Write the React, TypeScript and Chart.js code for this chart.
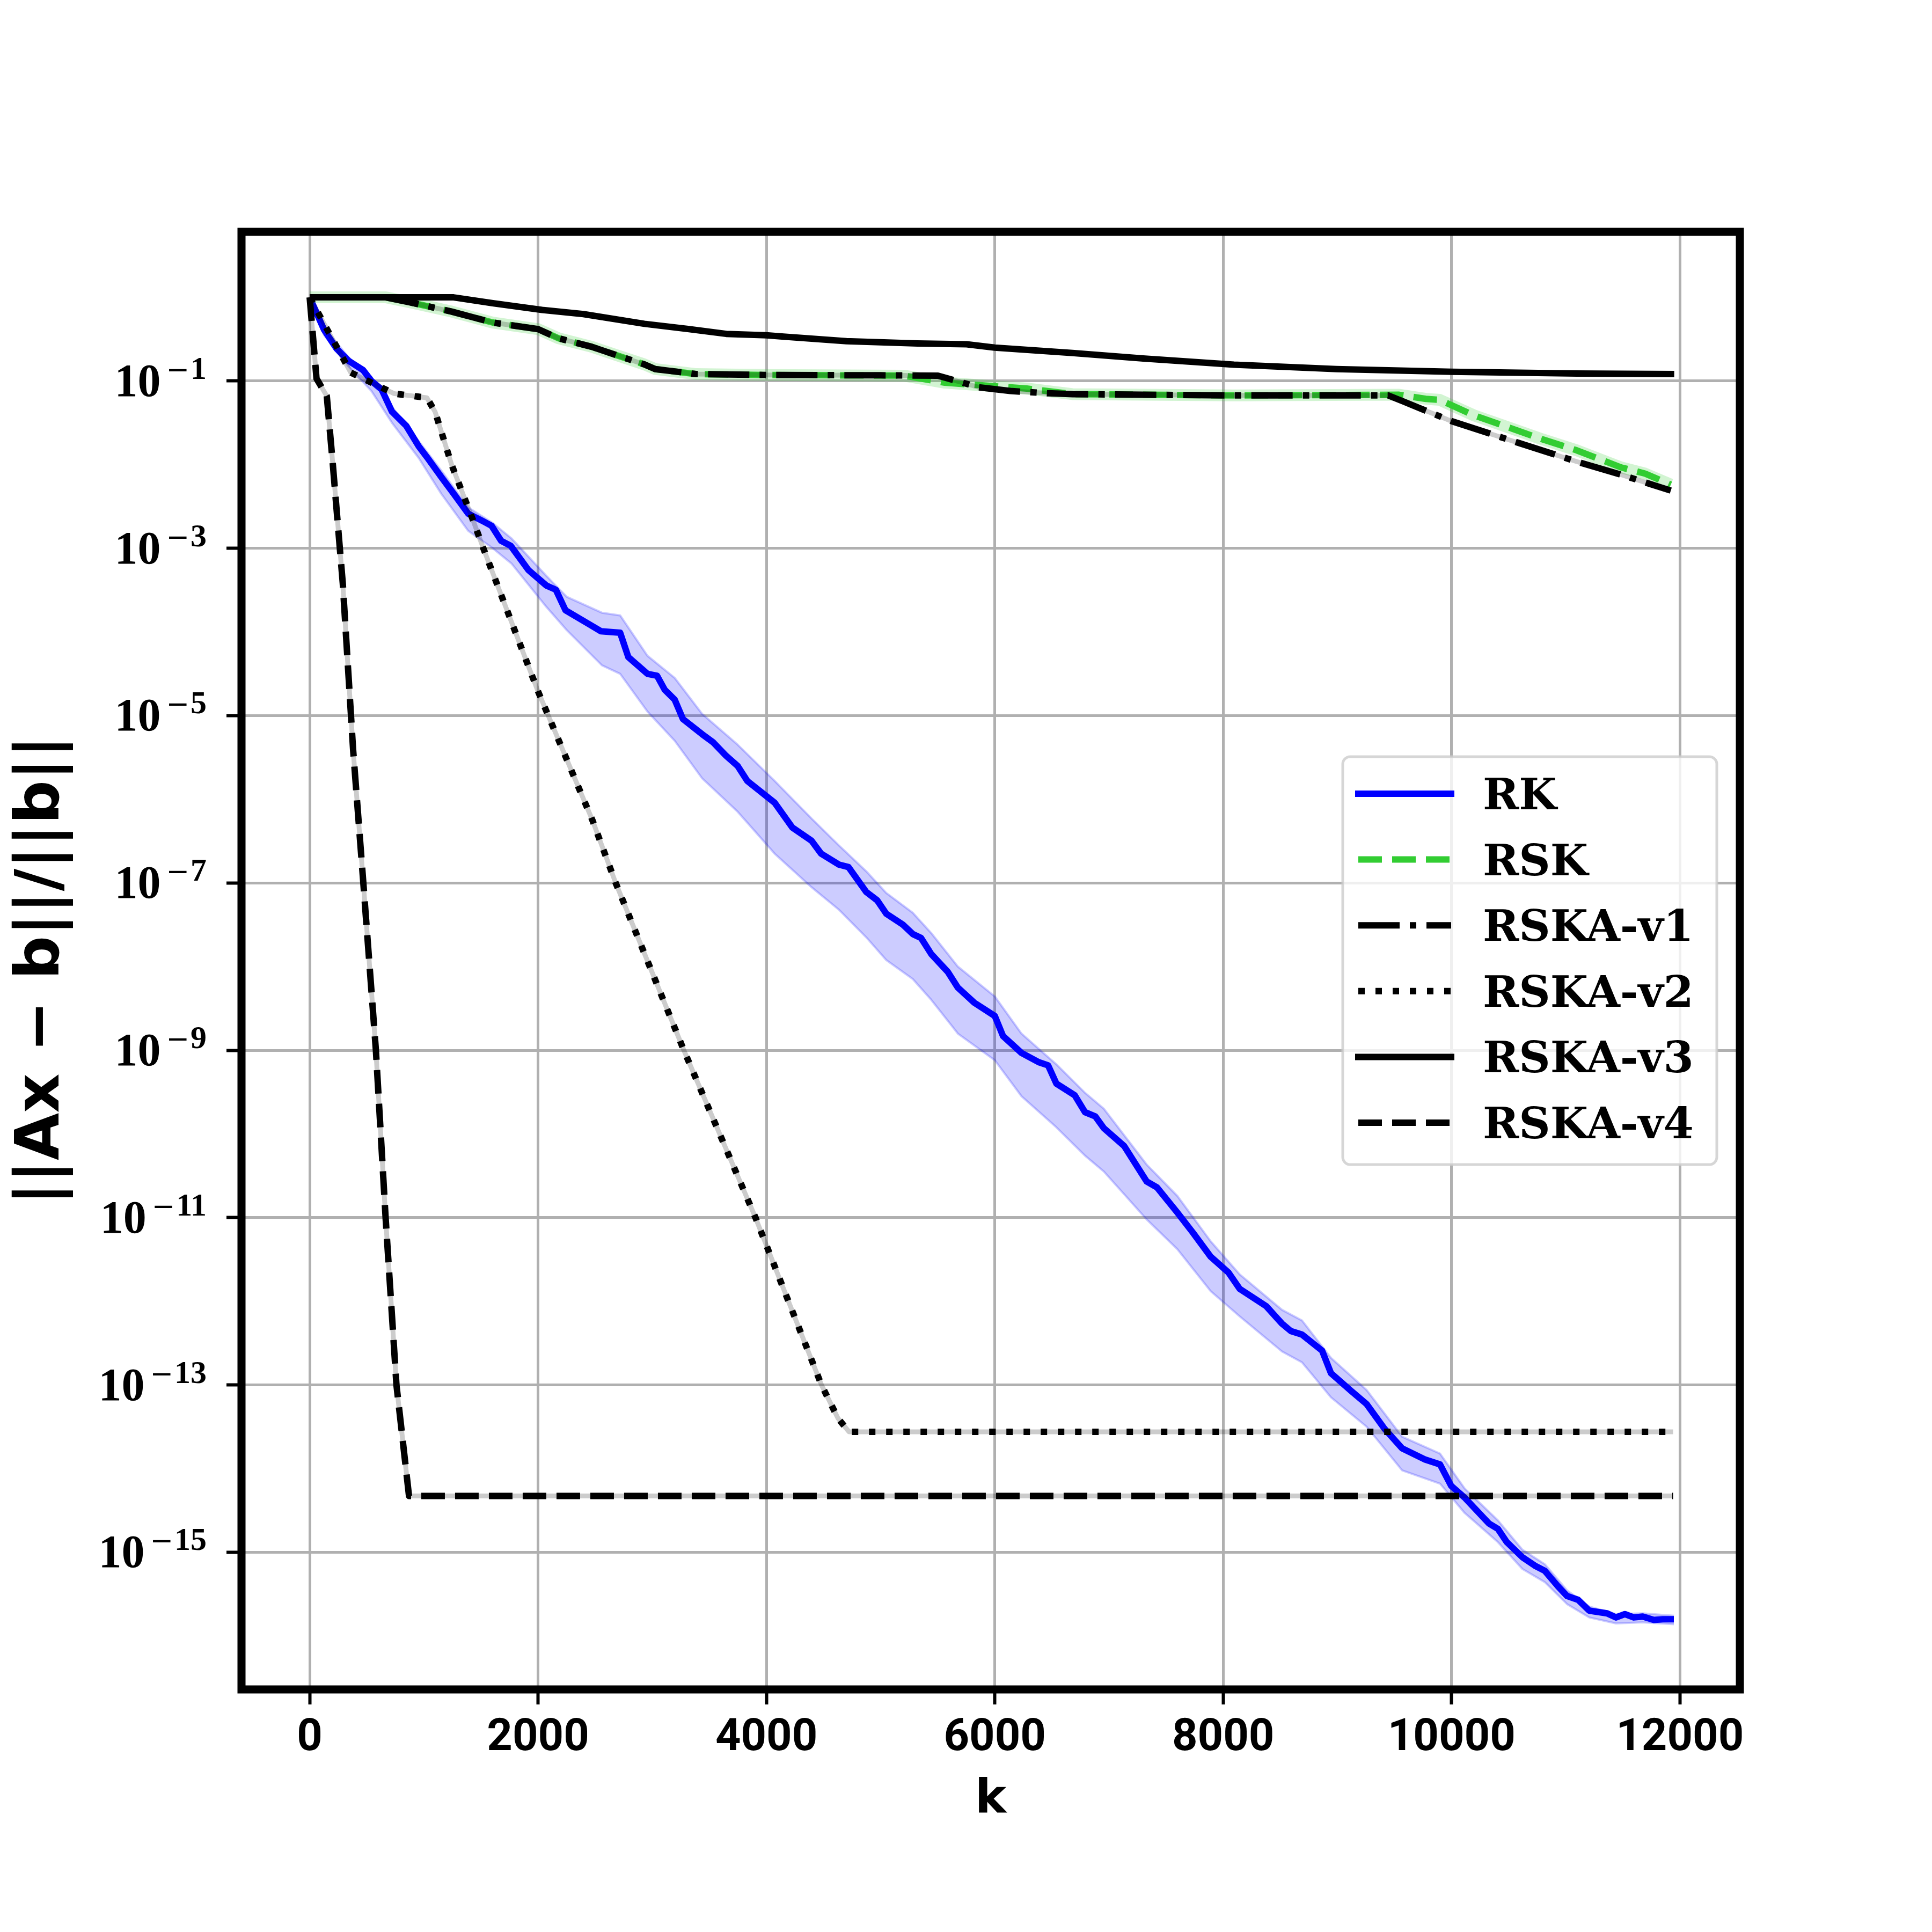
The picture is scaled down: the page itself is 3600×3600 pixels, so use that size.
import React, { useEffect, useRef } from "react";
import { Chart, registerables } from "chart.js";

Chart.register(...registerables);

// iteration counts k and relative residuals
const rkK = [0, 126, 234, 342, 468, 541, 631, 721, 847, 955, 1027, 1153, 1261, 1388, 1521, 1593, 1677, 1761, 1916, 2072, 2156, 2240, 2451, 2551, 2719, 2791, 2958, 3042, 3109, 3197, 3269, 3437, 3533, 3648, 3748, 3832, 4072, 4227, 4395, 4479, 4634, 4718, 4874, 4970, 5049, 5192, 5282, 5354, 5444, 5587, 5677, 5821, 6000, 6072, 6234, 6385, 6467, 6539, 6700, 6790, 6880, 6955, 7132, 7330, 7420, 7598, 7735, 7891, 8047, 8144, 8378, 8515, 8593, 8690, 8866, 8944, 9119, 9256, 9412, 9568, 9763, 9899, 9997, 10114, 10328, 10406, 10484, 10621, 10738, 10816, 10933, 11011, 11108, 11206, 11362, 11440, 11518, 11596, 11674, 11772, 11849, 11947];
const rkMean = [1, 0.41, 0.245, 0.174, 0.135, 0.1, 0.079, 0.043, 0.029, 0.0166, 0.0123, 0.0071, 0.0045, 0.0026, 0.0021, 0.00186, 0.00123, 0.00107, 5.5e-4, 3.6e-4, 3.2e-4, 1.82e-4, 1.23e-4, 1.02e-4, 9.8e-5, 5.0e-5, 3.16e-5, 3.0e-5, 2.04e-5, 1.55e-5, 9.1e-6, 6.0e-6, 4.8e-6, 3.3e-6, 2.5e-6, 1.66e-6, 9.1e-7, 4.6e-7, 3.2e-7, 2.24e-7, 1.66e-7, 1.55e-7, 7.8e-8, 6.2e-8, 4.3e-8, 3.2e-8, 2.45e-8, 2.2e-8, 1.41e-8, 8.7e-9, 5.6e-9, 3.7e-9, 2.57e-9, 1.48e-9, 9.3e-10, 7.2e-10, 6.6e-10, 4.0e-10, 2.9e-10, 1.82e-10, 1.62e-10, 1.17e-10, 7.2e-11, 2.7e-11, 2.3e-11, 1.15e-11, 6.6e-12, 3.4e-12, 2.2e-12, 1.41e-12, 8.7e-13, 5.4e-13, 4.4e-13, 4.0e-13, 2.57e-13, 1.38e-13, 8.5e-14, 5.9e-14, 3.0e-14, 1.74e-14, 1.29e-14, 1.12e-14, 6.2e-15, 4.5e-15, 2.2e-15, 1.9e-15, 1.32e-15, 8.7e-16, 6.8e-16, 6.0e-16, 3.9e-16, 3.0e-16, 2.7e-16, 2.0e-16, 1.86e-16, 1.66e-16, 1.82e-16, 1.66e-16, 1.7e-16, 1.55e-16, 1.58e-16, 1.58e-16];

// spread band around RK
const rkBandK = [0, 126, 342, 541, 721, 955, 1153, 1388, 1604, 1766, 2072, 2252, 2559, 2719, 2958, 3197, 3437, 3748, 4072, 4395, 4634, 4874, 5049, 5282, 5444, 5677, 6000, 6234, 6539, 6790, 6955, 7330, 7598, 7891, 8144, 8515, 8690, 8944, 9256, 9568, 9899, 10114, 10406, 10621, 10816, 11011, 11206, 11440, 11674, 11947];
const rkUpper = [1, 0.437, 0.191, 0.112, 0.049, 0.0191, 0.0085, 0.00309, 0.002, 0.00132, 4.7e-4, 2.63e-4, 1.7e-4, 1.58e-4, 5.2e-5, 2.82e-5, 1.05e-5, 4.5e-6, 1.66e-6, 5.9e-7, 2.82e-7, 1.38e-7, 7.6e-8, 4.4e-8, 2.51e-8, 1.0e-8, 4.4e-9, 1.58e-9, 6.8e-10, 3.1e-10, 2.0e-10, 4.3e-11, 1.82e-11, 5.2e-12, 2.1e-12, 7.9e-13, 5.9e-13, 2.1e-13, 8.7e-14, 2.4e-14, 1.51e-14, 5.8e-15, 2.4e-15, 1.07e-15, 7.2e-16, 3.5e-16, 2.24e-16, 1.82e-16, 1.86e-16, 1.74e-16];
const rkLower = [1, 0.355, 0.148, 0.0759, 0.0316, 0.012, 0.00447, 0.00162, 0.001, 6.6e-4, 2.0e-4, 1.05e-4, 4.0e-5, 3.16e-5, 1.12e-5, 5.0e-6, 1.78e-6, 7.1e-7, 2.24e-7, 8.9e-8, 4.8e-8, 2.24e-8, 1.2e-8, 7.1e-9, 4.0e-9, 1.58e-9, 7.6e-10, 2.82e-10, 1.2e-10, 5.5e-11, 3.55e-11, 9.5e-12, 4.2e-12, 1.32e-12, 6.6e-13, 2.51e-13, 1.86e-13, 7.1e-14, 3.16e-14, 9.5e-15, 6.6e-15, 2.95e-15, 1.32e-15, 6.3e-16, 4.4e-16, 2.4e-16, 1.66e-16, 1.41e-16, 1.45e-16, 1.38e-16];

const rskK = [0, 667, 883, 1243, 1604, 2000, 2180, 2469, 2685, 2931, 3026, 3385, 4000, 5203, 5562, 5873, 6280, 6681, 8095, 9535, 9775, 9895, 10195, 10495, 10795, 11095, 11485, 11695, 11920];
const rskMean = [1, 1, 0.87, 0.676, 0.5, 0.417, 0.324, 0.257, 0.204, 0.158, 0.139, 0.121, 0.118, 0.116, 0.0955, 0.089, 0.0813, 0.0697, 0.0673, 0.0686, 0.0612, 0.0596, 0.0389, 0.028, 0.0201, 0.01486, 0.00927, 0.00782, 0.00578];

const v1K = [0, 667, 883, 1243, 1604, 2000, 2180, 2469, 2685, 2931, 3026, 3385, 4000, 5000, 5502, 5861, 6136, 6471, 6681, 8095, 9445, 9580, 10000, 10495, 11095, 11485, 11920];
const v1Vals = [1, 1, 0.87, 0.676, 0.5, 0.417, 0.324, 0.257, 0.204, 0.158, 0.139, 0.121, 0.118, 0.117, 0.116, 0.084, 0.076, 0.0713, 0.0697, 0.0673, 0.0673, 0.0568, 0.0331, 0.02, 0.0109, 0.00759, 0.0049];

const v2K = [0, 360, 739, 1027, 1099, 1243, 1424, 1521, 2000, 2479, 2680, 3277, 3904, 4482, 4626, 4723, 11940];
const v2Vals = [1, 0.126, 0.0708, 0.063, 0.0427, 0.01, 0.00229, 1e-3, 1.95e-5, 5.5e-7, 1e-7, 1e-9, 1e-11, 1e-13, 4.0e-14, 2.75e-14, 2.75e-14];

const v3K = [0, 1261, 1604, 2036, 2397, 2931, 3313, 3648, 4000, 4151, 4701, 5323, 5753, 6000, 6681, 7300, 8095, 8995, 10000, 11095, 11950];
const v3Vals = [1, 1, 0.851, 0.708, 0.631, 0.483, 0.419, 0.366, 0.352, 0.339, 0.299, 0.281, 0.275, 0.251, 0.216, 0.186, 0.157, 0.139, 0.129, 0.123, 0.121];

const v4K = [0, 60, 150, 200, 290, 380, 470, 580, 665, 760, 870, 11940];
const v4Vals = [1, 0.107, 0.066, 0.0112, 3.8e-4, 4.0e-6, 1e-7, 1e-9, 1e-11, 1e-13, 4.7e-15, 4.7e-15];

const xTicks = [0, 2000, 4000, 6000, 8000, 10000, 12000];
const yTicks = [1e-1, 1e-3, 1e-5, 1e-7, 1e-9, 1e-11, 1e-13, 1e-15];
const legendLabels = ["RK", "RSK", "RSKA-v1", "RSKA-v2", "RSKA-v3", "RSKA-v4"];

// line styles (matplotlib-like dash patterns for lw 12)
const LW = 12;
const DASHED = [44, 19];
const DASHDOT = [77, 19, 12, 19];
const DOTTED = [12, 20];
const BLUE = "#0000ff";
const GREEN = "#32cd32";
const legendStyles = [
  { color: BLUE, dash: [] as number[] },
  { color: GREEN, dash: DASHED },
  { color: "#000000", dash: DASHDOT },
  { color: "#000000", dash: DOTTED },
  { color: "#000000", dash: [] as number[] },
  { color: "#000000", dash: DASHED },
];

const SERIF = '"DejaVu Serif", serif';
const TICK_SERIF = '"Liberation Serif", serif';
const SANS = '"DejaVu Sans", sans-serif';
const TICK_SANS = 'Roboto, "Liberation Sans", sans-serif';

const pts = (ks: number[], vs: number[]) => ks.map((k, i) => ({ x: k, y: vs[i] }));

const decorPlugin = {
  id: "decor",
  afterDatasetsDraw(chart: any) {
    const { ctx, chartArea: a } = chart;
    ctx.save();
    ctx.strokeStyle = "#000";
    ctx.lineWidth = 15;
    ctx.setLineDash([]);
    ctx.strokeRect(a.left, a.top, a.right - a.left, a.bottom - a.top);
    ctx.restore();
  },
  afterDraw(chart: any) {
    const { ctx, chartArea: a } = chart;
    const xs = chart.scales.x;
    const ys = chart.scales.y;
    ctx.save();
    ctx.fillStyle = "#000";
    ctx.textBaseline = "alphabetic";

    // x tick labels
    ctx.font = `bold 83px ${TICK_SANS}`;
    ctx.textAlign = "center";
    xs.ticks.forEach((t: any) => {
      ctx.fillText(String(t.value), xs.getPixelForValue(t.value), a.bottom + 113);
    });

    // y tick labels 10^{-n}: wide minus + digits as superscript
    ys.ticks.forEach((t: any) => {
      const y = ys.getPixelForValue(t.value);
      const digits = String(Math.abs(Math.round(Math.log10(t.value))));
      const right = a.left - 65;
      ctx.textAlign = "right";
      ctx.font = `bold 60px ${TICK_SERIF}`;
      ctx.fillText(digits, right, y - 4);
      const dw = ctx.measureText(digits).width;
      ctx.font = `52px ${SERIF}`;
      ctx.fillText("\u2212", right - dw - 2, y - 4);
      const mw = ctx.measureText("\u2212").width;
      ctx.font = `bold 86px ${TICK_SERIF}`;
      ctx.fillText("10", right - dw - mw - 12, y + 28);
    });

    // axis titles
    ctx.textAlign = "center";
    ctx.font = `bold 88px ${SANS}`;
    ctx.fillText("k", (a.left + a.right) / 2, a.bottom + 229);
    ctx.save();
    ctx.translate(109, (a.top + a.bottom) / 2 + 18);
    ctx.rotate(-Math.PI / 2);
    ctx.font = `bold 114px ${SANS}`;
    ctx.fillText("||Ax \u2212 b||/||b||", 0, 0);
    ctx.restore();

    // legend
    const bx = a.right - 740;
    const by = a.top + 978;
    const bw = 697;
    const bh = 760;
    ctx.beginPath();
    ctx.roundRect(bx, by, bw, bh, 14);
    ctx.fillStyle = "rgba(255,255,255,0.8)";
    ctx.fill();
    ctx.strokeStyle = "rgba(204,204,204,0.8)";
    ctx.lineWidth = 5;
    ctx.stroke();
    legendLabels.forEach((label, i) => {
      const st = legendStyles[i];
      const ry = by + 69 + i * 122.6;
      ctx.beginPath();
      ctx.setLineDash(st.dash);
      ctx.lineCap = st.dash.length ? "butt" : "square";
      ctx.strokeStyle = st.color;
      ctx.lineWidth = LW;
      ctx.moveTo(bx + 29, ry);
      ctx.lineTo(bx + 202, ry);
      ctx.stroke();
      ctx.setLineDash([]);
      ctx.fillStyle = "#000";
      ctx.textAlign = "left";
      ctx.font = `bold 81px ${SERIF}`;
      ctx.fillText(label, bx + 261, ry + 29);
    });
    ctx.restore();
  },
};

const App: React.FC = () => {
  const canvasRef = useRef<HTMLCanvasElement | null>(null);
  const chartRef = useRef<Chart | null>(null);

  useEffect(() => {
    if (!canvasRef.current) return;
    if (chartRef.current) chartRef.current.destroy();
    const ctx = canvasRef.current.getContext("2d");
    if (!ctx) return;

    const line = (extra: any) => ({
      pointRadius: 0,
      pointHoverRadius: 0,
      tension: 0,
      fill: false,
      borderCapStyle: "butt",
      borderJoinStyle: "round",
      ...extra,
    });

    // bottom -> top drawing order
    const sets: any[] = [
      line({ data: pts(rkBandK, rkUpper), borderColor: "rgba(0,0,255,0.2)", borderWidth: 4, backgroundColor: "rgba(0,0,255,0.2)", fill: "+1" }),
      line({ data: pts(rkBandK, rkLower), borderColor: "rgba(0,0,255,0.2)", borderWidth: 4 }),
      line({ label: "RK", data: pts(rkK, rkMean), borderColor: BLUE, borderWidth: LW }),
      line({ data: pts(rskK, rskMean), borderColor: "rgba(50,205,50,0.22)", borderWidth: 22 }),
      line({ label: "RSK", data: pts(rskK, rskMean), borderColor: GREEN, borderWidth: LW, borderDash: DASHED }),
      line({ data: pts(v1K, v1Vals), borderColor: "rgba(0,0,0,0.2)", borderWidth: 9 }),
      line({ label: "RSKA-v1", data: pts(v1K, v1Vals), borderColor: "#000", borderWidth: LW, borderDash: DASHDOT }),
      line({ data: pts(v2K, v2Vals), borderColor: "rgba(0,0,0,0.2)", borderWidth: 9 }),
      line({ label: "RSKA-v2", data: pts(v2K, v2Vals), borderColor: "#000", borderWidth: LW, borderDash: DOTTED }),
      line({ label: "RSKA-v3", data: pts(v3K, v3Vals), borderColor: "#000", borderWidth: LW }),
      line({ data: pts(v4K, v4Vals), borderColor: "rgba(0,0,0,0.2)", borderWidth: 9 }),
      line({ label: "RSKA-v4", data: pts(v4K, v4Vals), borderColor: "#000", borderWidth: LW, borderDash: DASHED }),
    ];
    sets.forEach((s, i) => (s.order = sets.length - i));

    const gridOpts = {
      color: "#b0b0b0",
      lineWidth: 5,
      drawTicks: true,
      tickLength: 28,
      tickWidth: 6,
      tickColor: "#000",
    };

    chartRef.current = new Chart(ctx, {
      type: "line",
      data: { datasets: sets },
      options: {
        responsive: false,
        devicePixelRatio: 1,
        animation: false,
        events: [],
        layout: { padding: { left: 0, top: 432, right: 358, bottom: 0 } },
        plugins: { legend: { display: false }, tooltip: { enabled: false } },
        scales: {
          x: {
            type: "linear",
            min: -597,
            max: 12525,
            grid: gridOpts,
            border: { display: false },
            ticks: { display: false },
            afterBuildTicks: (s: any) => {
              s.ticks = xTicks.map((v) => ({ value: v }));
            },
            afterFit: (s: any) => {
              s.height = 452;
            },
          },
          y: {
            type: "logarithmic",
            min: 2.29e-17,
            max: 6.07,
            grid: gridOpts,
            border: { display: false },
            ticks: { display: false },
            afterBuildTicks: (s: any) => {
              s.ticks = yTicks.map((v) => ({ value: v }));
            },
            afterFit: (s: any) => {
              s.width = 450;
            },
          },
        },
      } as any,
      plugins: [decorPlugin],
    });

    const fonts = [`bold 81px ${SERIF}`, `52px ${SERIF}`, `bold 86px ${TICK_SERIF}`, `bold 88px ${SANS}`, `bold 83px ${TICK_SANS}`];
    if ((document as any).fonts) {
      Promise.all(fonts.map((f) => (document as any).fonts.load(f)))
        .then(() => chartRef.current?.draw())
        .catch(() => {});
    }

    return () => {
      if (chartRef.current) {
        chartRef.current.destroy();
        chartRef.current = null;
      }
    };
  }, []);

  return (
    <div style={{ position: "absolute", left: 0, top: 0, width: 3600, height: 3600, background: "#ffffff" }}>
      <canvas ref={canvasRef} width={3600} height={3600} style={{ display: "block", width: 3600, height: 3600 }} />
    </div>
  );
};

export default App;
